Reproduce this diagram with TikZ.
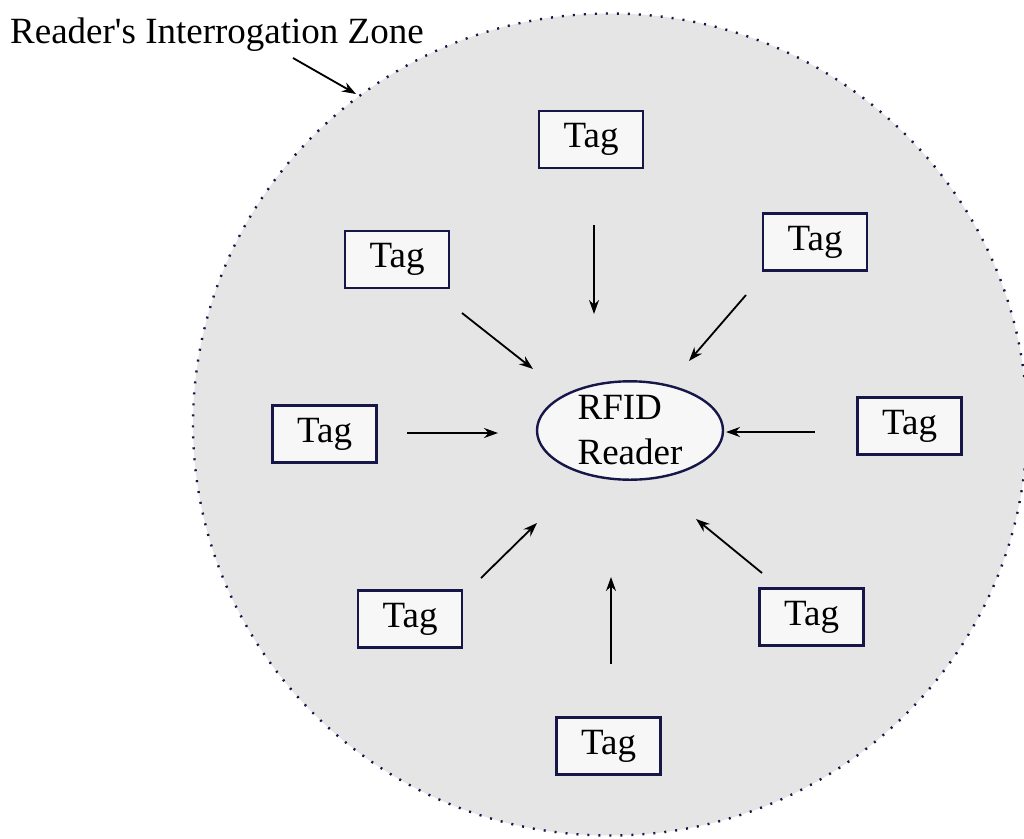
\documentclass[tikz,border=0pt]{standalone}
\usepackage{fontspec}
\setmainfont{Liberation Serif}[Ligatures=TeXOff]
\usetikzlibrary{shapes.geometric,arrows.meta}
\definecolor{zonefill}{HTML}{E5E5E5}
\definecolor{boxfill}{HTML}{F7F7F7}
\definecolor{edge}{HTML}{161648}
\tikzset{
  bigfont/.style={font=\fontsize{37pt}{45pt}\selectfont},
  tagbox/.style={draw=edge, line width=2.4pt, fill=boxfill, minimum width=104pt,
    minimum height=57pt, inner sep=0pt, bigfont, text height=24pt, text depth=8pt},
  readerbox/.style={ellipse, draw=edge, line width=2.4pt, fill=boxfill, minimum width=186pt,
    minimum height=97pt, inner sep=0pt, align=left, bigfont},
  zone/.style={draw=edge, line width=2.4pt, fill=zonefill, dash pattern=on 2pt off 9pt},
  arr/.style={line width=1.8pt, -{Stealth[length=14pt,width=10pt]}}
}
\begin{document}
\begin{tikzpicture}[x=1pt,y=-1pt]
\useasboundingbox (0,0) rectangle (1024,838);
\fill[white] (0,0) rectangle (1024,838);
\draw[zone] (610,424.5) ellipse [x radius=417, y radius=411];
\node[bigfont, anchor=base west, inner sep=0pt] (zonelabel) at (10,43) {Reader's Interrogation Zone};
\coordinate (zs) at (293,58);
\coordinate (ze) at (356,94);
\draw[arr] (zs) -- (ze);

\node[readerbox] (reader) at (630,430.5) {RFID\\Reader};

\node[tagbox] (t1) at (591,139.5) {Tag};
\node[tagbox] (t2) at (397,259.5) {Tag};
\node[tagbox] (t3) at (815,242) {Tag};
\node[tagbox] (t4) at (324.5,434) {Tag};
\node[tagbox] (t5) at (909.5,426) {Tag};
\node[tagbox] (t6) at (410,619) {Tag};
\node[tagbox] (t7) at (608.5,746) {Tag};
\node[tagbox] (t8) at (811.5,617) {Tag};

\coordinate (a1s) at (594,225); \coordinate (a1e) at (594,314);
\coordinate (a2s) at (462,313); \coordinate (a2e) at (533,369);
\coordinate (a3s) at (746,295); \coordinate (a3e) at (689,361);
\coordinate (a4s) at (407,433); \coordinate (a4e) at (498,433);
\coordinate (a5s) at (815,432); \coordinate (a5e) at (726,432);
\coordinate (a6s) at (481,578); \coordinate (a6e) at (537,523);
\coordinate (a7s) at (611,664); \coordinate (a7e) at (611,577);
\coordinate (a8s) at (762,573); \coordinate (a8e) at (696,519);

\draw[arr] (a1s) -- (a1e);
\draw[arr] (a2s) -- (a2e);
\draw[arr] (a3s) -- (a3e);
\draw[arr] (a4s) -- (a4e);
\draw[arr] (a5s) -- (a5e);
\draw[arr] (a6s) -- (a6e);
\draw[arr] (a7s) -- (a7e);
\draw[arr] (a8s) -- (a8e);
\end{tikzpicture}
\end{document}
